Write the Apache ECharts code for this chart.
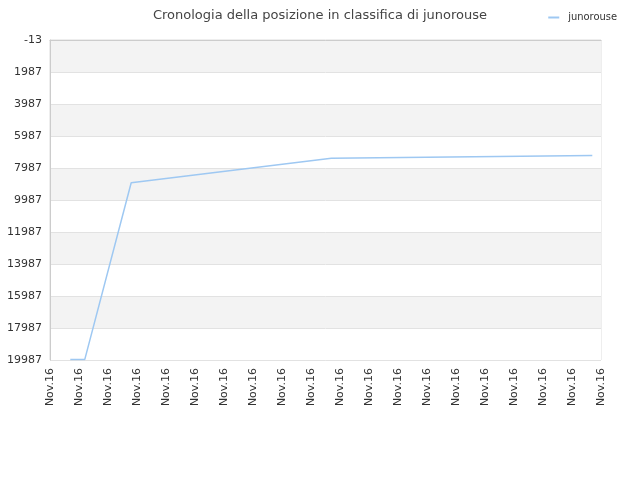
<!DOCTYPE html>
<html>
<head>
<meta charset="utf-8">
<script src="https://cdn.jsdelivr.net/npm/echarts@6/dist/echarts.min.js"></script>
<style>
html, body { margin: 0; padding: 0; background: #fff; }
#chart { width: 640px; height: 480px; }
</style>
</head>
<body>
<div id="chart"></div>
<script>
// x position of each reading (sample index) and the rank read at it
var sampleIdx = [7, 12, 28, 97, 187];
var ranks = [19950, 19950, 8906, 7381, 7206];
var tickLabels = ['Nov.16', 'Nov.16', 'Nov.16', 'Nov.16', 'Nov.16', 'Nov.16', 'Nov.16',
    'Nov.16', 'Nov.16', 'Nov.16', 'Nov.16', 'Nov.16', 'Nov.16', 'Nov.16', 'Nov.16',
    'Nov.16', 'Nov.16', 'Nov.16', 'Nov.16', 'Nov.16'];
var seriesName = 'junorouse';

function set_chart() {
    var points = [];
    for (var i = 0; i < sampleIdx.length; i++) {
        points.push([sampleIdx[i], ranks[i]]);
    }
    var option = {
        animation: false,
        title: {
            text: 'Cronologia della posizione in classifica di ' + seriesName,
            left: 'center',
            top: 4,
            textStyle: {
                fontFamily: 'DejaVu Sans',
                fontSize: 13,
                fontWeight: 'normal',
                color: '#444'
            }
        },
        legend: {
            data: [seriesName],
            right: 18,
            top: 7,
            itemWidth: 11,
            itemHeight: 2,
            itemGap: 5,
            icon: 'rect',
            textStyle: {
                fontFamily: 'DejaVu Sans Condensed',
                fontSize: 11,
                padding: [0, 0, 0, 4],
                color: '#333'
            }
        },
        grid: {
            left: 50,
            right: 39,
            top: 40,
            bottom: 120,
            show: true,
            borderColor: '#ddd',
            borderWidth: 1
        },
        xAxis: {
            type: 'value',
            min: 0,
            max: 190,
            interval: 10,
            axisLine: { show: true, lineStyle: { color: '#ccc' } },
            axisTick: { show: false },
            splitLine: { show: false },
            axisLabel: {
                rotate: 90,
                fontFamily: 'DejaVu Sans',
                fontSize: 11,
                color: '#333',
                margin: 8,
                formatter: function (v) { return tickLabels[Math.round(v / 10)]; }
            }
        },
        yAxis: {
            type: 'value',
            inverse: true,
            min: -13,
            max: 19987,
            interval: 2000,
            axisLine: { show: true, lineStyle: { color: '#ccc' } },
            axisTick: { show: false },
            splitLine: { show: true, lineStyle: { color: '#e2e2e2' } },
            splitArea: { show: true, areaStyle: { color: ['#f3f3f3', '#ffffff'] } },
            axisLabel: {
                fontFamily: 'DejaVu Sans',
                fontSize: 11,
                color: '#333',
                margin: 8,
                formatter: function (v) { return String(Math.round(v)); }
            }
        },
        series: [{
            name: seriesName,
            type: 'line',
            data: points,
            showSymbol: false,
            lineStyle: { color: '#9ec8f2', width: 1.5 },
            itemStyle: { color: '#9ec8f2' }
        }]
    };
    var myChart = echarts.init(document.getElementById('chart'));
    myChart.setOption(option, true);
}
window.onload = function () {
    set_chart();
};
</script>
</body>
</html>
